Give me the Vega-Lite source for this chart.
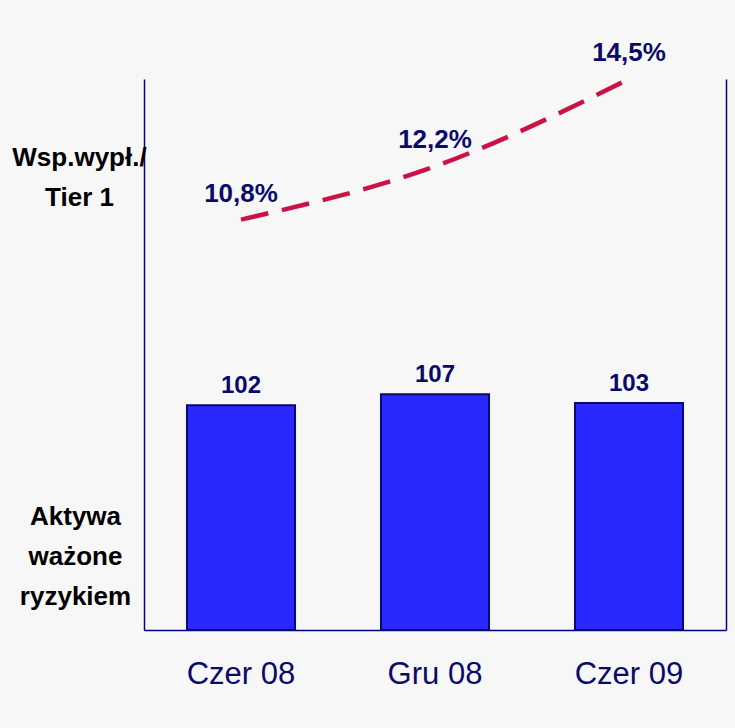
{
  "$schema": "https://vega.github.io/schema/vega-lite/v6.json",
  "autosize": "none",
  "width": 582,
  "height": 551,
  "padding": {"left": 144, "top": 79, "right": 9, "bottom": 98},
  "background": "#f7f7f7",
  "config": {
    "font": "Liberation Sans",
    "view": {"stroke": null},
    "axis": {"grid": false, "ticks": false, "tickSize": 0, "labels": true, "domainColor": "#000080", "domainWidth": 1.5}
  },
  "data": {
    "values": [
      {"period": "Czer 08", "rwa": 102, "pct": 10.8, "pctLabel": "10,8%"},
      {"period": "Gru 08", "rwa": 107, "pct": 12.2, "pctLabel": "12,2%"},
      {"period": "Czer 09", "rwa": 103, "pct": 14.5, "pctLabel": "14,5%"}
    ]
  },
  "encoding": {
    "x": {
      "field": "period",
      "type": "nominal",
      "sort": null,
      "scale": {"paddingInner": 0.443, "paddingOuter": 0.2215},
      "axis": {
        "title": null,
        "labelAngle": 0,
        "labelFontSize": 31,
        "labelColor": "#0a0a6b",
        "labelPadding": 53,
        "labelBaseline": "alphabetic"
      }
    }
  },
  "layer": [
    {
      "encoding": {
        "y": {
          "field": "rwa",
          "type": "quantitative",
          "scale": {"domain": [0, 250], "nice": false},
          "axis": {
            "orient": "left",
            "labels": false,
            "title": ["Aktywa", "ważone", "ryzykiem"],
            "titleAngle": 0,
            "titleAlign": "center",
            "titleBaseline": "alphabetic",
            "titleX": -69,
            "titleY": 445,
            "titleFontSize": 26,
            "titleFontWeight": "bold",
            "titleColor": "#000000",
            "titleLineHeight": 40
          }
        }
      },
      "layer": [
        {
          "mark": {"type": "bar", "color": "#2828ff", "stroke": "#0a0a6b", "strokeWidth": 2}
        },
        {
          "mark": {"type": "text", "dy": -12, "baseline": "alphabetic", "fontSize": 24, "fontWeight": "bold", "color": "#0a0a6b"},
          "encoding": {"text": {"field": "rwa", "type": "quantitative"}}
        }
      ]
    },
    {
      "encoding": {
        "y": {
          "field": "pct",
          "type": "quantitative",
          "scale": {"domain": [0, 14.5], "nice": false, "zero": true},
          "axis": {
            "orient": "right",
            "labels": false,
            "title": ["Wsp.wypł./", "Tier 1"],
            "titleAngle": 0,
            "titleAlign": "center",
            "titleBaseline": "alphabetic",
            "titleX": -647,
            "titleY": 86,
            "titleFontSize": 26,
            "titleFontWeight": "bold",
            "titleColor": "#000000",
            "titleLineHeight": 40
          }
        }
      },
      "layer": [
        {
          "mark": {"type": "line", "interpolate": "monotone", "color": "#cc1146", "strokeWidth": 4.5, "strokeDash": [28, 14]}
        },
        {
          "mark": {"type": "text", "dy": -18, "baseline": "alphabetic", "fontSize": 26, "fontWeight": "bold", "color": "#0a0a6b"},
          "encoding": {"text": {"field": "pctLabel", "type": "nominal"}}
        }
      ]
    }
  ],
  "resolve": {"scale": {"y": "independent"}}
}
